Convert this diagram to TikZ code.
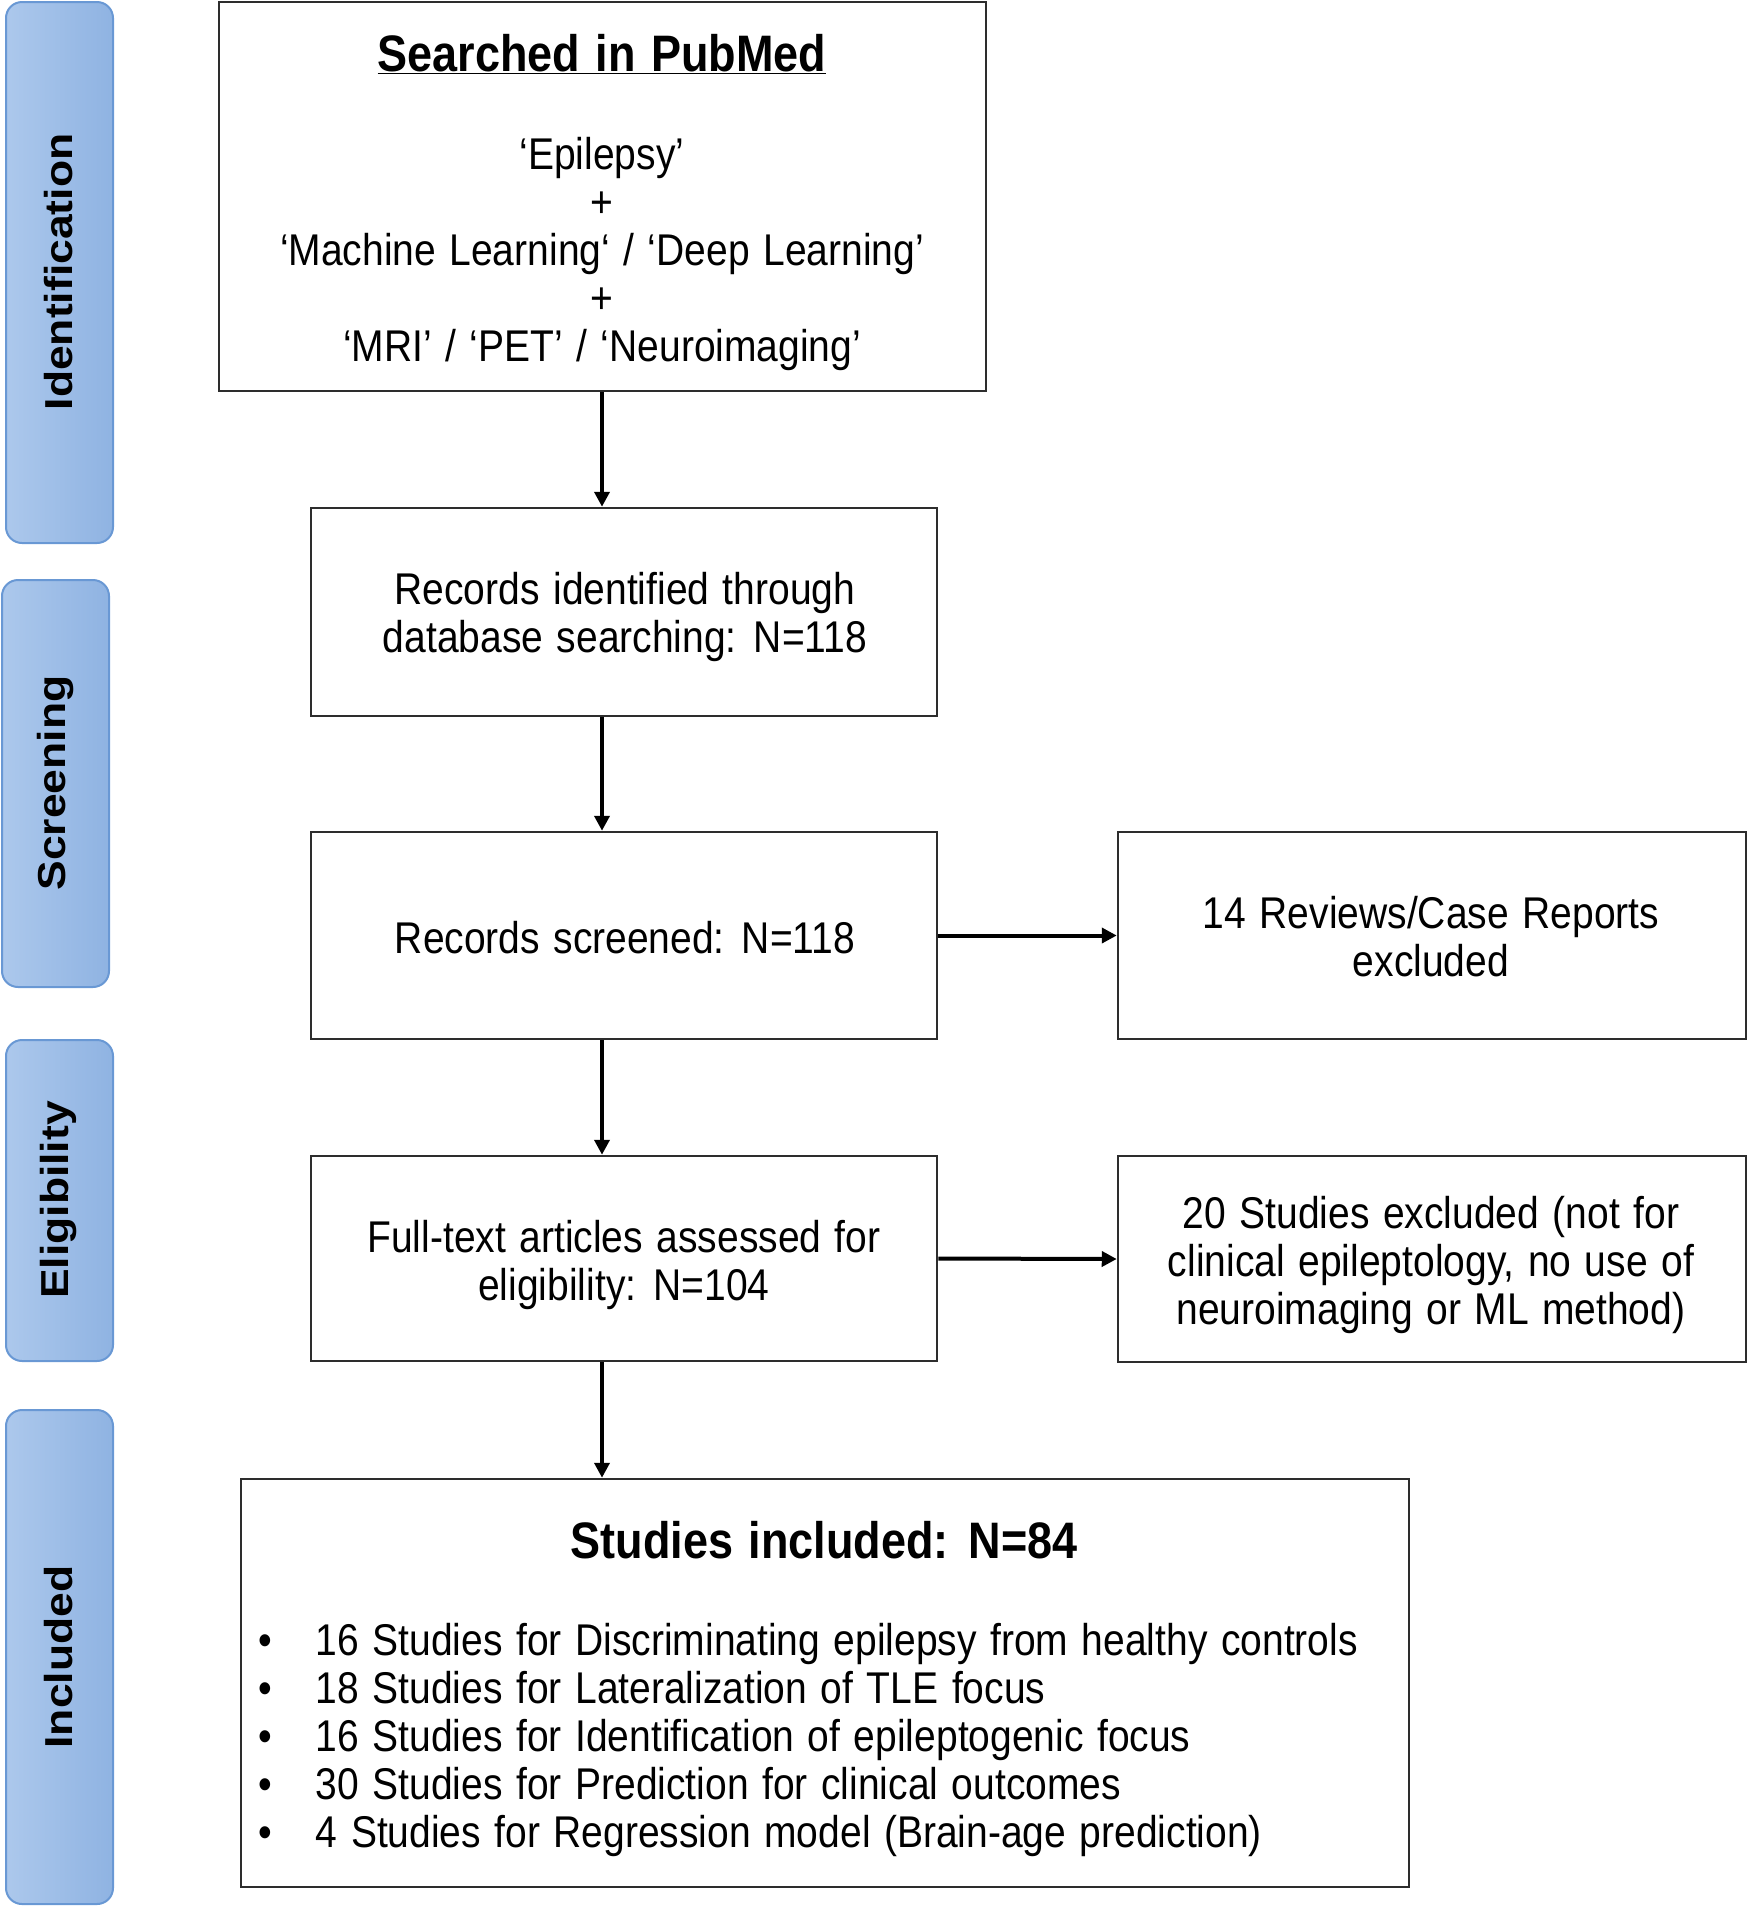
\documentclass[tikz,border=0pt]{standalone}
\usepackage{fontspec}
\usepackage{graphicx}
\setmainfont[WordSpace=1.25]{Liberation Sans}
\usetikzlibrary{arrows.meta}
\definecolor{bandL}{RGB}{172,200,236}
\definecolor{bandR}{RGB}{143,179,226}
\definecolor{bandB}{RGB}{105,152,212}
\definecolor{boxline}{RGB}{45,45,45}
\newcommand\vst[1]{\scalebox{1}[1.14]{#1}}
\newcommand\rotlab[1]{\rotatebox{90}{\scalebox{1.14}[1]{\bfseries #1}}}
\newcommand\bodyfont{\fontsize{39}{42}\selectfont}
\newcommand\headfont{\fontsize{45}{50}\selectfont\bfseries}
\tikzset{
  band/.style={draw=bandB, line width=2pt, rounded corners=16pt, left color=bandL, right color=bandR},
  bandlabel/.style={inner sep=0pt, font=\bodyfont},
  flowbox/.style={draw=boxline, line width=2.5pt, rectangle, inner sep=0pt},
  boxtext/.style={inner sep=0pt, align=center, font=\bodyfont},
  flowarrow/.style={line width=4pt, -{Triangle[length=15pt,width=15pt]}}
}
\begin{document}
\begin{tikzpicture}[x=1pt,y=-1pt]
\useasboundingbox (0,0) rectangle (1750,1907);
% side bands
\draw[band] (6,2) rectangle (113,543);
\draw[band] (2,580) rectangle (109,987);
\draw[band] (6,1040) rectangle (113,1361);
\draw[band] (6,1410) rectangle (113,1904);
\node[bandlabel] (lid) at (59,272) {\rotlab{Identification}};
\node[bandlabel] (lsc) at (56,783) {\rotlab{Screening}};
\node[bandlabel] (lel) at (59,1200) {\rotlab{Eligibility}};
\node[bandlabel] (lin) at (59,1657) {\rotlab{Included}};
% boxes
\node[flowbox, minimum width=767pt, minimum height=389pt] (b1) at (602.5,196.5) {};
\node[flowbox, minimum width=626pt, minimum height=208pt] (b2) at (624,612) {};
\node[flowbox, minimum width=626pt, minimum height=207pt] (b3) at (624,935.5) {};
\node[flowbox, minimum width=628pt, minimum height=207pt] (b3r) at (1432,935.5) {};
\node[flowbox, minimum width=626pt, minimum height=205pt] (b4) at (624,1258.5) {};
\node[flowbox, minimum width=628pt, minimum height=206pt] (b4r) at (1432,1259) {};
\node[flowbox, minimum width=1168pt, minimum height=408pt] (b5) at (825,1683) {};
% texts
\node[boxtext, font=\headfont] (t1) at (602,54) {\vst{\underline{Searched in PubMed}}};
\node[boxtext] (t1b) at (602,256) {\vst{\begin{tabular}{@{}c@{}}‘Epilepsy’\\+\\‘Machine Learning‘ / ‘Deep Learning’\\+\\‘MRI’ / ‘PET’ / ‘Neuroimaging’\end{tabular}}};
\node[boxtext] (t2) at (625,619) {\vst{\begin{tabular}{@{}c@{}}Records identified through\\database searching: N=118\end{tabular}}};
\node[boxtext] (t3) at (625,938) {\vst{Records screened: N=118}};
\node[boxtext] (t3r) at (1431,943) {\vst{\begin{tabular}{@{}c@{}}14 Reviews/Case Reports\\excluded\end{tabular}}};
\node[boxtext] (t4) at (624,1267) {\vst{\begin{tabular}{@{}c@{}}Full-text articles assessed for\\eligibility: N=104\end{tabular}}};
\node[boxtext] (t4r) at (1431,1267) {\vst{\begin{tabular}{@{}c@{}}20 Studies excluded (not for\\clinical epileptology, no use of\\neuroimaging or ML method)\end{tabular}}};
\node[boxtext, font=\headfont] (t5) at (824,1540) {\vst{Studies included: N=84}};
\node[boxtext, anchor=west] (t5b) at (258,1742) {\vst{\begin{tabular}{@{}l@{\hspace{44pt}}l@{}}
•&16 Studies for Discriminating epilepsy from healthy controls\\
•&18 Studies for Lateralization of TLE focus\\
•&16 Studies for Identification of epileptogenic focus\\
•&30 Studies for Prediction for clinical outcomes\\
•&4 Studies for Regression model (Brain-age prediction)
\end{tabular}}};
% arrows
\coordinate (col) at (602,0);
\draw[flowarrow] (col |- b1.south) -- (col |- b2.north);
\draw[flowarrow] (col |- b2.south) -- (col |- b3.north);
\draw[flowarrow] (col |- b3.south) -- (col |- b4.north);
\draw[flowarrow] (col |- b4.south) -- (col |- b5.north);
\draw[flowarrow] (b3.east) -- (b3r.west);
\draw[flowarrow] (b4.east) -- (b4r.west);
\end{tikzpicture}
\end{document}
